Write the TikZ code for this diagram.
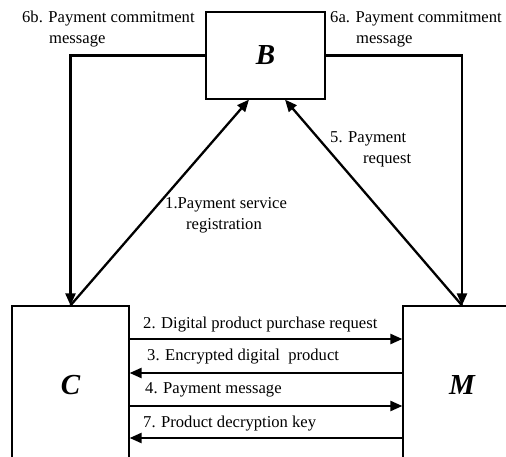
\documentclass[tikz,border=0pt]{standalone}
\usepackage{fontspec}
\setmainfont{Liberation Serif}
\usetikzlibrary{arrows.meta}
\begin{document}
\begin{tikzpicture}[x=1pt,y=-1pt,
  box/.style={draw,line width=1.2pt,inner sep=0pt,font=\fontsize{29}{32}\selectfont\bfseries\itshape},
  conn/.style={line width=2.3pt,-{Triangle[length=12pt,width=10pt]}},
  lbl/.style={inner sep=0pt,anchor=west,align=left,font=\fontsize{16.6}{21}\selectfont}]
\clip (0,0) rectangle (506,457);
\fill[white] (0,0) rectangle (506,457);
\node[box,minimum width=119pt,minimum height=87pt] (B) at (265.5,55.5) {B};
\node[box,minimum width=117pt,minimum height=158pt] (C) at (70.5,385) {C};
\node[box,minimum width=118pt,minimum height=158pt] (M) at (462,385) {M};
\coordinate (b1) at ([xshift=-16.5pt]B.south);
\coordinate (b2) at ([xshift=19.5pt]B.south);
\coordinate (y2) at (0,339);
\coordinate (y3) at (0,373);
\coordinate (y4) at (0,406);
\coordinate (y7) at (0,438);
\draw[conn] (B.west) -| (C.north);
\draw[conn] (B.east) -| (M.north);
\draw[conn] (C.north) -- (b1);
\draw[conn] (M.north) -- (b2);
\draw[conn] (C.east |- y2) -- (M.west |- y2);
\draw[conn] (M.west |- y3) -- (C.east |- y3);
\draw[conn] (C.east |- y4) -- (M.west |- y4);
\draw[conn] (M.west |- y7) -- (C.east |- y7);
\node[lbl] (l6b) at (22,29) {6b. Payment commitment\\\hspace*{27pt}message};
\node[lbl] (l6a) at (330,29) {6a. Payment commitment\\\hspace*{26pt}message};
\node[lbl] (l1) at (165,215) {1.Payment service\\\hspace*{21pt}registration};
\node[lbl] (l5) at (330,149) {5. Payment\\\hspace*{33pt}request};
\node[lbl] (l2) at (143,325) {2. Digital product purchase request};
\node[lbl] (l3) at (147,357) {3. Encrypted digital\ \ product};
\node[lbl] (l4) at (145,390) {4. Payment message};
\node[lbl] (l7) at (143,424) {7. Product decryption key};
\end{tikzpicture}
\end{document}
